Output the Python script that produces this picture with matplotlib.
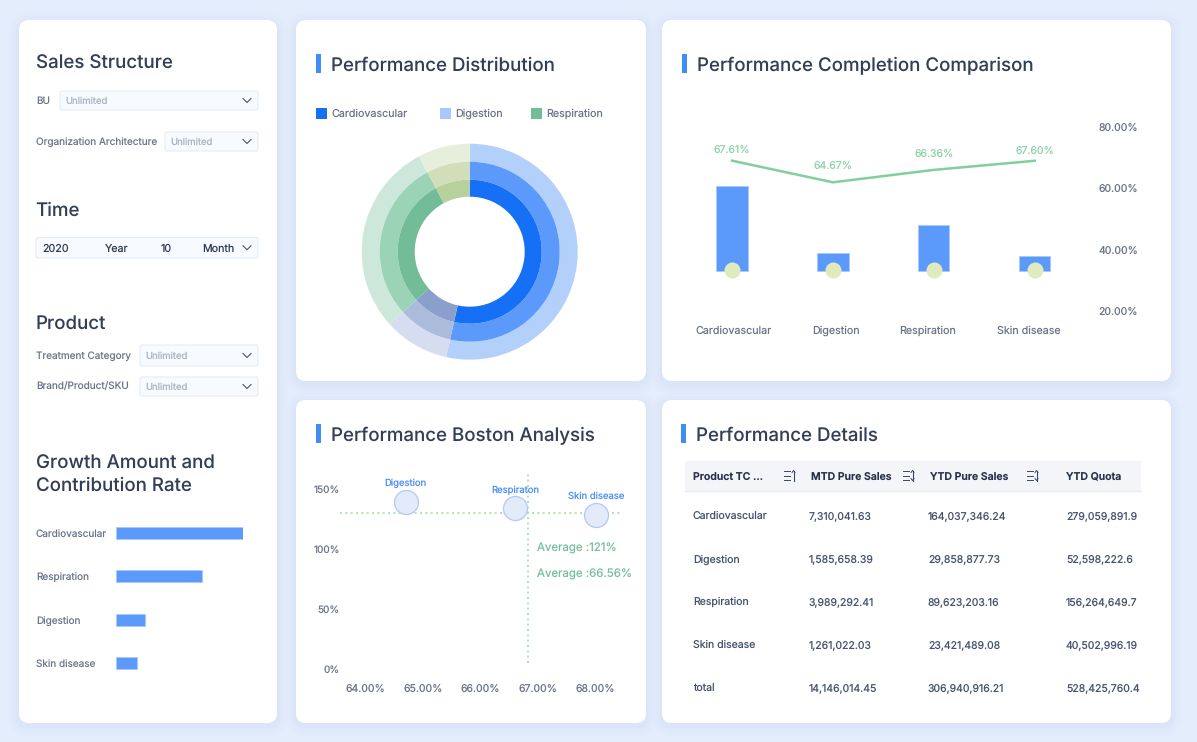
import matplotlib
matplotlib.use("Agg")
import matplotlib.pyplot as plt
from matplotlib.patches import FancyBboxPatch, Rectangle

W, H = 1197, 742

# donut (share of each category)
donut_labels = ["Cardiovascular", "Skin disease", "Respiration", "Digestion-olive"]
donut_values = [53.5, 9.8, 28.9, 7.8]
donut_inner = ["#1570F5", "#8A9FCB", "#72BD98", "#B8D09B"]
donut_middle = ["#5B9AFB", "#ABBBDC", "#9BD3B7", "#D0DFB9"]
donut_outer = ["#B3D0FB", "#D6DDF0", "#CDE8DB", "#E6EFDB"]
legend_labels = ["Cardiovascular", "Digestion", "Respiration"]
legend_colors = ["#1570F5", "#A8C8FB", "#72BD98"]

# completion comparison
products = ["Cardiovascular", "Digestion", "Respiration", "Skin disease"]
mtd_sales = [7310041.63, 1585658.39, 3989292.41, 1261022.03]
completion = [67.61, 64.67, 66.36, 67.60]
completion_ticks = [20, 40, 60, 80]
dot_values = [120000, 120000, 120000, 120000]

# boston chart
boston_names = ["Digestion", "Respiraton", "Skin disease"]
boston_x = [64.70, 66.60, 68.01]
boston_y = [139.4, 134.0, 128.0]
boston_xticks = [64, 65, 66, 67, 68]
boston_yticks = [0, 50, 100, 150]
avg_x_line = 66.82
avg_y_line = 129.7

# growth bars
growth_names = ["Cardiovascular", "Respiration", "Digestion", "Skin disease"]
growth_values = [100, 67.8, 22.8, 16.7]

# table
table_columns = ["Product TC ...", "MTD Pure Sales", "YTD Pure Sales", "YTD Quota"]
table_names = ["Cardiovascular", "Digestion", "Respiration", "Skin disease", "total"]
table_mtd = ["7,310,041.63", "1,585,658.39", "3,989,292.41", "1,261,022.03", "14,146,014.45"]
table_ytd = ["164,037,346.24", "29,858,877.73", "89,623,203.16", "23,421,489.08", "306,940,916.21"]
table_quota = ["279,059,891.9", "52,598,222.6", "156,264,649.7", "40,502,996.19", "528,425,760.4"]

plt.rcParams["font.family"] = ["Inter", "DejaVu Sans"]
plt.rcParams["text.hinting"] = "no_hinting"
plt.rcParams["text.hinting_factor"] = 1

DARK = "#333F55"
GREY = "#6B7588"
FAINT = "#A9B3C5"
GREEN = "#8FD3A8"


def pt(px):
    """Font size in points from a size in pixels"""
    return px * 0.72


def axes_px(fig, left, top, right, bottom):
    """Add a transparent axes from a pixel box"""
    ax = fig.add_axes([left / W, 1 - bottom / H, (right - left) / W, (bottom - top) / H])
    ax.patch.set_alpha(0)
    for spine in ax.spines.values():
        spine.set_visible(False)
    return ax


def card(page, left, top, right, bottom):
    """White rounded card with a soft shadow"""
    for grow, alpha in [(10, 0.10), (7, 0.14), (4, 0.18), (2, 0.22)]:
        page.add_patch(FancyBboxPatch(
            (left - grow, top - grow + 3), right - left + 2 * grow, bottom - top + 2 * grow,
            boxstyle=f"round,pad=0,rounding_size={10 + grow}",
            fc="#D3E1F6", ec="none", alpha=alpha))
    page.add_patch(FancyBboxPatch(
        (left, top), right - left, bottom - top,
        boxstyle="round,pad=0,rounding_size=10", fc="white", ec="none"))


def label(page, x, y, text, size=10, color=GREY, **kwargs):
    """Text placed by its visual centre line, the 1 px is the font's own lift"""
    page.text(x, y + 1, text, fontsize=pt(size), color=color, va="center", **kwargs)


def heading(page, x, y, text):
    page.text(x, y + 1.5, text, fontsize=pt(18.7), color=DARK, va="center", fontweight="medium")


def chart_title(page, x, y, text):
    page.add_patch(Rectangle((x, y - 10), 5, 19, fc="#3F8EF5", ec="none"))
    heading(page, x + 15, y, text)


def dropdown(page, left, top, right, bottom, text=None):
    page.add_patch(FancyBboxPatch(
        (left, top), right - left, bottom - top,
        boxstyle="round,pad=0,rounding_size=2", fc="#F7FAFE", ec="#E6ECF5", lw=0.8))
    if text:
        label(page, left + 5.5, (top + bottom) / 2, text, size=9.5, color=FAINT)
    cy = (top + bottom) / 2
    page.plot([right - 15, right - 11, right - 7], [cy - 2, cy + 2, cy - 2], color="#4A5568", lw=0.8)


def sort_icon(page, x, y, up_only=False):
    for dy in [-4.5, 0, 4.5]:
        page.plot([x, x + 5.5], [y + dy, y + dy], color="#3A4760", lw=0.7)
    page.plot([x + 9.5, x + 9.5], [y - 5, y + 5], color="#3A4760", lw=0.8)
    page.plot([x + 8, x + 9.5, x + 11], [y - 3, y - 5, y - 3], color="#3A4760", lw=0.7)
    if not up_only:
        page.plot([x + 8, x + 9.5, x + 11], [y + 3, y + 5, y + 3], color="#3A4760", lw=0.7)


fig = plt.figure(figsize=(W / 100, H / 100), dpi=100, facecolor="#E3EDFC")

# page layer in pixel coordinates, for the cards and the form controls
page = fig.add_axes([0, 0, 1, 1])
page.set_xlim(0, W)
page.set_ylim(H, 0)
page.axis("off")

card(page, 19, 20, 277, 723)
card(page, 296, 20, 646, 381)
card(page, 662, 20, 1171, 381)
card(page, 296, 400, 646, 723)
card(page, 662, 400, 1171, 723)

# left panel
heading(page, 36, 62, "Sales Structure")
label(page, 36, 100.5, "BU")
dropdown(page, 60, 91, 258, 110, "Unlimited")
label(page, 36, 141.5, "Organization Architecture")
dropdown(page, 165, 132, 258, 151, "Unlimited")

heading(page, 35, 209.5, "Time")
dropdown(page, 36, 237.5, 258, 258)
for x, text in [(42, "2020"), (105, "Year"), (161, "10"), (202, "Month")]:
    label(page, x, 247.5, text, size=10.7, color="#2F3A50")

heading(page, 36, 322, "Product")
label(page, 36, 355, "Treatment Category")
dropdown(page, 140, 345, 258, 366, "Unlimited")
label(page, 36, 385.5, "Brand/Product/SKU")
dropdown(page, 140, 377, 258, 396, "Unlimited")

heading(page, 36, 462, "Growth Amount and")
heading(page, 36, 484.5, "Contribution Rate")

ax_growth = axes_px(fig, 116, 511, 243.3, 685)
ax_growth.barh(growth_names, growth_values, height=0.275, color="#5B9AFB", edgecolor="#A9C9FB", linewidth=0.5)
ax_growth.set_xlim(0, 100)
ax_growth.set_ylim(3.5, -0.5)
ax_growth.xaxis.set_visible(False)
ax_growth.tick_params(axis="y", length=0, pad=57.6, labelsize=pt(10), labelcolor=GREY)
for tick_label in ax_growth.get_yticklabels():
    tick_label.set_ha("left")

# performance distribution
chart_title(page, 316, 64, "Performance Distribution")
for x, text_x, text, color in zip([316, 440, 531], [332, 455, 546], legend_labels, legend_colors):
    page.add_patch(Rectangle((x, 108), 11, 11, fc=color, ec="none"))
    label(page, text_x, 113, text, size=10.7)

ax_donut = axes_px(fig, 361.7, 143.7, 577.7, 359.7)
for radius, width, colors in [(108, 18, donut_outer), (90, 18, donut_middle), (72, 17, donut_inner)]:
    ax_donut.pie(donut_values, radius=radius / 108, colors=colors, startangle=90, counterclock=False,
                 wedgeprops={"width": width / 108, "linewidth": 0})
ax_donut.set_xlim(-1, 1)
ax_donut.set_ylim(-1, 1)

# performance completion comparison
chart_title(page, 682, 64, "Performance Completion Comparison")
ax_combo = axes_px(fig, 690, 127, 1090, 311)
ax_combo.set_xlim((690 - 732) / 100.9, (1090 - 732) / 100.9)
ax_combo.set_ylim(20, 80)
ax_combo.set_yticks(completion_ticks, [f"{v:.2f}%" for v in completion_ticks])
ax_combo.xaxis.set_visible(False)

ax_bars = ax_combo.twinx()
ax_bars.patch.set_alpha(0)
ax_bars.set_ylim(-40 / 11.6e-6, 144 / 11.6e-6)
ax_bars.axis("off")
ax_bars.bar(range(4), mtd_sales, width=0.31, color="#5B9AFB", edgecolor="#A9C9FB", linewidth=0.5)
ax_bars.scatter(range(4), dot_values, s=133, color="#DFEBBB", zorder=3, linewidths=0)

ax_line = ax_combo.twinx()
ax_line.patch.set_alpha(0)
ax_line.set_ylim(67.61 - 150.3 / 7.35, 67.61 + 33.7 / 7.35)
ax_line.axis("off")
ax_line.plot(range(4), completion, color="#82CF9E", lw=1.8)
for i, (value, lift) in enumerate(zip(completion, [10.7, 16, 16, 10])):
    ax_line.annotate(f"{value:.2f}%", (i, value), xytext=(0, lift * 0.72), textcoords="offset points",
                     ha="center", va="center", fontsize=pt(10.5), color=GREEN)

# twinx moves the ticks back to the left, so this has to come after it
ax_combo.yaxis.tick_right()
ax_combo.tick_params(axis="y", length=0, pad=5.8, labelsize=pt(10.5), labelcolor=GREY)

for x, text in zip([733.5, 836, 928, 1028.5], products):
    label(page, x, 329.5, text, size=10.7, ha="center")

# performance boston analysis
chart_title(page, 316, 434, "Performance Boston Analysis")
ax_boston = axes_px(fig, 340, 467, 621, 669)
ax_boston.set_xlim(64 + (340 - 365.5) / 57.5, 64 + (621 - 365.5) / 57.5)
ax_boston.set_ylim(0, 202 / 1.2)
ax_boston.set_xticks(boston_xticks, [f"{v:.2f}%" for v in boston_xticks])
ax_boston.set_yticks(boston_yticks, [f"{v}%" for v in boston_yticks])
ax_boston.tick_params(axis="x", length=0, pad=11, labelsize=pt(10.5), labelcolor=GREY)
ax_boston.tick_params(axis="y", length=0, pad=0, labelsize=pt(10), labelcolor=GREY)
ax_boston.axhline(avg_y_line, color="#A5DBAE", lw=1.2, ls=(0, (1.2, 2)))
ax_boston.axvline(avg_x_line, ymax=0.97, ymin=0.03, color="#A5DBAE", lw=1.2, ls=(0, (1.2, 2)))
ax_boston.scatter(boston_x, boston_y, s=298, color="#E3EAFA", edgecolors="#B4C8F5", linewidths=0.9, zorder=3)
for x, y, text, lift in zip(boston_x, boston_y, boston_names, [18.5, 18, 19]):
    ax_boston.annotate(text, (x, y), xytext=(0, lift * 0.72), textcoords="offset points",
                       ha="center", va="center", fontsize=pt(9.5), color="#4C8DF6", annotation_clip=False)
label(page, 537, 547.5, "Average :121%", size=11.5, color="#79BF9D", zorder=5)
label(page, 537, 573.5, "Average :66.56%", size=11.5, color="#79BF9D", zorder=5)

# performance details
chart_title(page, 681, 434, "Performance Details")
page.add_patch(Rectangle((685, 461), 456, 30, fc="#F3F5F9", ec="none"))
page.plot([685, 1141], [491, 491], color="#E8ECF3", lw=1)
for x, text in zip([693, 811, 930, 1066.5], table_columns):
    label(page, x, 475.5, text, size=10.5, color="#26324A", fontweight="semibold")
sort_icon(page, 784, 475.5, up_only=True)
sort_icon(page, 903, 475.5)
sort_icon(page, 1027, 475.5)
for y, name, mtd, ytd, quota in zip([515, 558.3, 601.3, 644.3, 687.5],
                                    table_names, table_mtd, table_ytd, table_quota):
    label(page, 693, y, name, size=10.5, color="#47536A")
    label(page, 808.3, y, mtd, size=10.5, color="#47536A")
    label(page, 928, y, ytd, size=10.5, color="#47536A")
    label(page, 1066, y, quota, size=10.5, color="#47536A")

fig.savefig("out.png", dpi=100, facecolor=fig.get_facecolor())
plt.close(fig)
